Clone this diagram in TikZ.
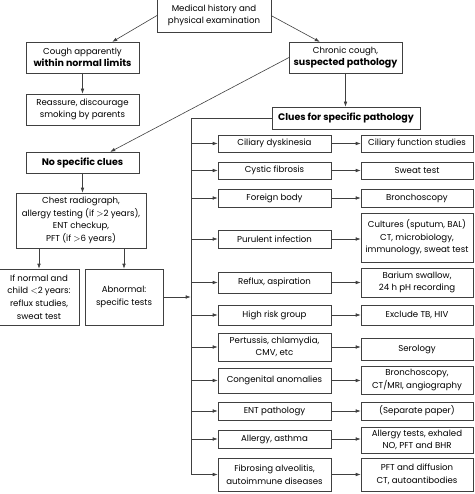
\documentclass[tikz,border=0pt]{standalone}
\usepackage{fontspec}
\setmainfont{Poppins}
\usetikzlibrary{arrows.meta}
\tikzset{
  box/.style={draw=black!75, line width=0.6pt, inner sep=0pt, outer sep=0pt, align=center,
    font=\fontsize{8.6}{12.6}\selectfont, text=black},
  conn/.style={draw=black!75, line width=0.6pt},
  arr/.style={conn, -{Latex[length=5pt,width=3.6pt]}, shorten >=0.3pt},
}
\newcommand\bfx[1]{{\fontsize{9.5}{12.6}\selectfont\bfseries #1}}
\newcommand\bx[6]{\node[box, minimum width={#4-#2}, minimum height={#5-#3}] (#1) at ({(#2+#4)/2},{-(#3+#5)/2}) {#6};}
\begin{document}
\begin{tikzpicture}[x=1pt,y=1pt]
\useasboundingbox (0,0) rectangle (474,-494);
% top part
\bx{top}{157}{-1}{271}{32}{Medical history and\\physical examination}
\bx{cough}{26}{42}{139}{73}{Cough apparently\\\bfx{within normal limits}}
\bx{chronic}{289}{42}{402}{73}{Chronic cough,\\\bfx{suspected pathology}}
\bx{reassure}{26}{94}{139}{125}{Reassure, discourage\\smoking by parents}
\bx{clues}{272}{107}{420}{129}{\bfx{Clues for specific pathology}}
\bx{nospec}{26}{152}{139}{173}{\bfx{No specific clues}}
\bx{chest}{16}{193}{146}{248}{Chest radiograph,\\allergy testing (if $>$2 years),\\ENT checkup,\\PFT (if $>$6 years)}
\bx{ifnormal}{-1}{269}{79}{325}{If normal and\\child $<$2 years:\\reflux studies,\\sweat test}
\bx{abnormal}{85}{269}{163}{325}{Abnormal:\\specific tests}
% left column
\bx{l1}{218}{135}{331}{152}{Ciliary dyskinesia}
\bx{l2}{218}{162}{331}{179}{Cystic fibrosis}
\bx{l3}{218}{189}{331}{207}{Foreign body}
\bx{l4}{218}{230}{331}{248}{Purulent infection}
\bx{l5}{218}{272}{331}{293}{Reflux, aspiration}
\bx{l6}{218}{305}{331}{325}{High risk group}
\bx{l7}{218}{333}{331}{361}{Pertussis, chlamydia,\\CMV, etc}
\bx{l8}{218}{368}{331}{393}{Congenital anomalies}
\bx{l9}{218}{402}{331}{420}{ENT pathology}
\bx{l10}{218}{430}{331}{448}{Allergy, asthma}
\bx{l11}{218}{458}{331}{491}{Fibrosing alveolitis,\\autoimmune diseases}
% right column
\bx{r1}{361}{135}{473}{152}{Ciliary function studies}
\bx{r2}{361}{162}{473}{179}{Sweat test}
\bx{r3}{361}{189}{473}{207}{Bronchoscopy}
\bx{r4}{361}{213}{473}{262}{Cultures (sputum, BAL)\\CT, microbiology,\\immunology, sweat test}
\bx{r5}{361}{268}{473}{297}{Barium swallow,\\24 h pH recording}
\bx{r6}{361}{305}{473}{325}{Exclude TB, HIV}
\bx{r7}{361}{338}{473}{360}{Serology}
\bx{r8}{361}{366}{473}{394}{Bronchoscopy,\\CT/MRI, angiography}
\bx{r9}{361}{402}{473}{420}{(Separate paper)}
\bx{r10}{361}{427}{473}{453}{Allergy tests, exhaled\\NO, PFT and BHR}
\bx{r11}{361}{458}{473}{491}{PFT and diffusion\\CT, autoantibodies}
% connectors top
\draw[arr] (top.west) -- (112,-42);
\draw[arr] (top.east) -- (320,-42);
\draw[arr] (cough.south) -- (cough.south |- reassure.north);
\draw[arr] (chronic.south) -- (chronic.south |- clues.north);
\draw[arr] (chronic.west) -- (110,-152);
\draw[arr] (nospec.south) -- (nospec.south |- chest.north);
\draw[arr] (ifnormal.north |- chest.south) -- (ifnormal.north);
\draw[arr] (abnormal.north |- chest.south) -- (abnormal.north);
% trunk
\coordinate (trunktop) at (191,-118);
\coordinate (trunkbot) at (191,-474.5);
\draw[conn] (clues.west) -- (trunktop) -- (trunkbot);
\draw[arr] (abnormal.east) -- (trunktop |- abnormal.east);
\foreach \i in {1,...,11}{
  \draw[arr] (trunktop |- l\i.west) -- (l\i.west);
  \draw[arr] (l\i.east) -- (r\i.west |- l\i.east);
}
\end{tikzpicture}
\end{document}
